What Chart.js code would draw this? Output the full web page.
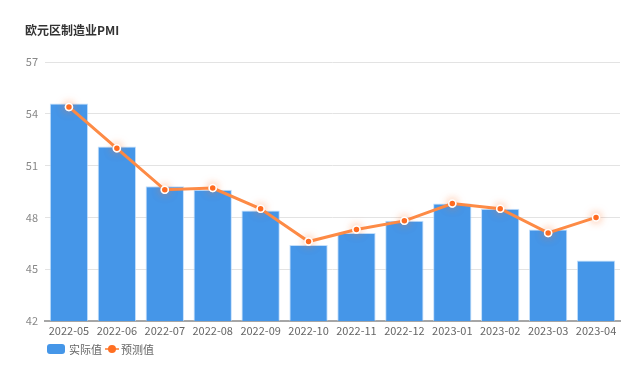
<!DOCTYPE html>
<html><head><meta charset="utf-8">
<script src="https://cdn.jsdelivr.net/npm/chart.js@4/dist/chart.umd.min.js"></script>
<style>
html,body{margin:0;padding:0;background:#fff;}
#wrap{position:relative;width:640px;height:369px;font-family:"Noto Sans CJK SC","Noto Sans",sans-serif;}
#c{position:absolute;left:0;top:0;}
#title{position:absolute;left:25px;top:21px;font-size:12px;font-weight:bold;color:#333;line-height:18px;}
#legend{position:absolute;left:47px;top:341px;display:flex;align-items:center;font-size:11px;color:#666;line-height:16px;}
.sw{display:inline-block;width:18px;height:10px;border-radius:3px;background:#4596e8;margin-right:4px;}
.ln{position:relative;display:inline-block;width:14px;height:10px;margin-left:3px;margin-right:2px;}
.ln:before{content:"";position:absolute;left:0;right:0;top:4px;height:2px;background:#fd9a60;}
.ln:after{content:"";position:absolute;left:3px;top:1px;width:8px;height:8px;border-radius:50%;background:#ff6f22;}
</style>
</head><body>
<div id="wrap">
<canvas id="c" width="640" height="369"></canvas>
<div id="title">欧元区制造业PMI</div>
<div id="legend"><span class="sw"></span><span>实际值</span><span class="ln"></span><span>预测值</span></div>
</div>
<script>
const categories = ["2022-05","2022-06","2022-07","2022-08","2022-09","2022-10","2022-11","2022-12","2023-01","2023-02","2023-03","2023-04"];
const actual = [54.6,52.1,49.8,49.6,48.4,46.4,47.1,47.8,48.8,48.5,47.3,45.5];
const forecast = [54.4,52.0,49.6,49.7,48.5,46.6,47.3,47.8,48.8,48.5,47.1,48.0];
const yTicks = [42,45,48,51,54,57];
const seriesNames = ["实际值","预测值"];

const font = "'Noto Sans CJK SC','Noto Sans',sans-serif";
const haloPlugin = {
  id:'halo',
  afterDatasetDraw(chart, args){
    if (args.index !== 0) return;
    const ctx = chart.ctx;
    args.meta.data.forEach(p => {
      ctx.save();
      ctx.shadowColor = 'rgba(255,120,50,0.55)';
      ctx.shadowBlur = 9;
      p.draw(ctx, chart.chartArea);
      ctx.restore();
    });
  }
};
new Chart(document.getElementById('c'), {
  data: {
    labels: categories,
    datasets: [
      {type:'line', label: seriesNames[1], data: forecast, order: 0,
       borderColor:'#fd8b46', borderWidth:3, tension:0,
       pointRadius:3.5, pointBackgroundColor:'#ff6a1f', pointBorderColor:'#ffffff', pointBorderWidth:1.5},
      {type:'bar', label: seriesNames[0], data: actual, order: 1,
       backgroundColor:'#4596e8', borderColor:'rgba(180,215,250,0.8)', borderWidth:1,
       barPercentage:0.8, categoryPercentage:1.0}
    ]
  },
  plugins:[haloPlugin],
  options: {
    responsive:false, animation:false,
    layout:{padding:{left:0,right:20,top:62,bottom:30}},
    plugins:{legend:{display:false}, title:{display:false}, tooltip:{enabled:false}},
    scales:{
      x:{
        grid:{display:false, drawTicks:false},
        border:{display:true, color:'#a6a6a6', width:2},
        ticks:{font:{family:font,size:11}, color:'#666', padding:3, maxRotation:0, autoSkip:false},
        afterFit:(s)=>{s.height=18;}
      },
      y:{
        min:42, max:57,
        afterBuildTicks:(s)=>{s.ticks = yTicks.map(v=>({value:v}));},
        grid:{color:'#e3e3e3', lineWidth:1, drawTicks:false},
        border:{display:false},
        ticks:{font:{family:font,size:11}, color:'#888', padding:7},
        afterFit:(s)=>{s.width=45;}
      }
    }
  }
});
</script>
</body></html>
